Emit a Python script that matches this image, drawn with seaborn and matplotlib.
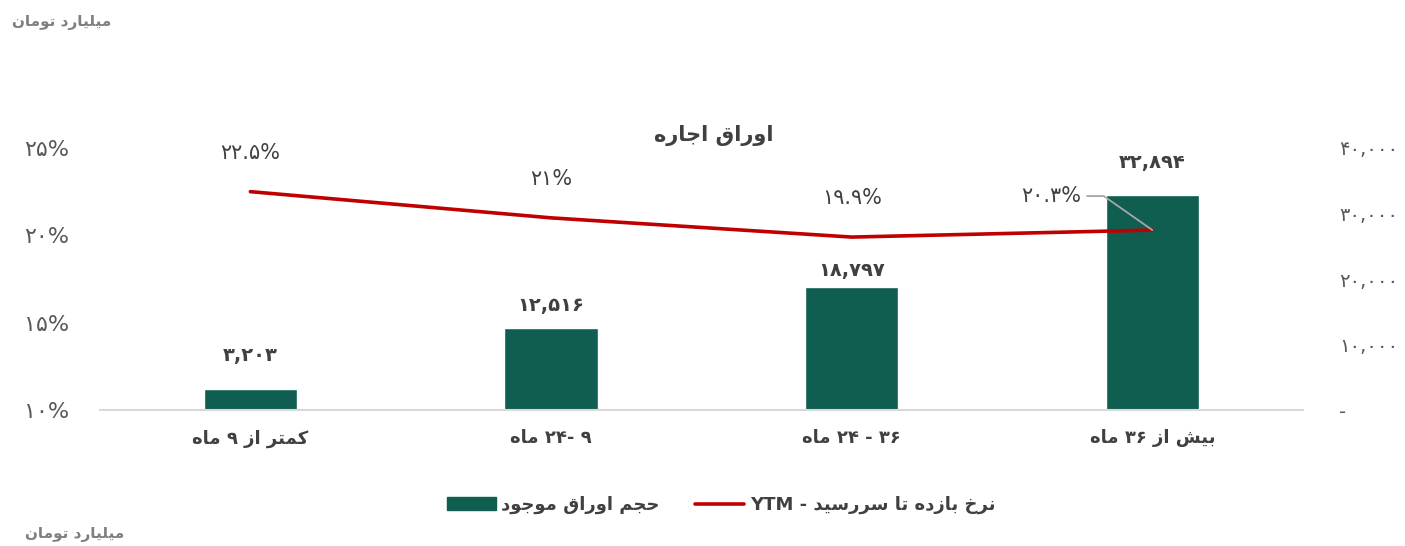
import re
import numpy as np
import matplotlib
matplotlib.use("Agg")
import matplotlib.pyplot as plt
from matplotlib.patches import Patch
from matplotlib.lines import Line2D
import seaborn as sns

# --- data ---
categories = ["کمتر از ۹ ماه", "۹ -۲۴ ماه", "۳۶ - ۲۴ ماه", "بیش از ۳۶ ماه"]
volume = [3203, 12516, 18797, 32894]          # billion toman (right axis)
volume_labels = ["۳,۲۰۳", "۱۲,۵۱۶", "۱۸,۷۹۷", "۳۲,۸۹۴"]
ytm = [22.5, 21.0, 19.9, 20.3]                # percent (left axis)
ytm_labels = ["۲۲.۵%", "۲۱%", "۱۹.۹%", "۲۰.۳%"]
left_ticks = [10, 15, 20, 25]
left_ticklabels = ["۱۰%", "۱۵%", "۲۰%", "۲۵%"]
right_ticks = [0, 10000, 20000, 30000, 40000]
right_ticklabels = ["-", "۱۰,۰۰۰", "۲۰,۰۰۰", "۳۰,۰۰۰", "۴۰,۰۰۰"]
title = "اوراق اجاره"
unit = "میلیارد تومان"
legend_bar = "حجم اوراق موجود"
legend_line = "نرخ بازده تا سررسید - YTM"

GREEN = "#0F5E50"
RED = "#C00000"
DARK = "#404040"
GREY = "#595959"

# --- minimal Persian shaping (matplotlib has no complex text layout) ---
# isolated, final, initial, medial
FORMS = {
    "ا": ("\uFE8D", "\uFE8E", None, None),
    "د": ("\uFEA9", "\uFEAA", None, None),
    "ر": ("\uFEAD", "\uFEAE", None, None),
    "ز": ("\uFEAF", "\uFEB0", None, None),
    "و": ("\uFEED", "\uFEEE", None, None),
    "ب": ("\uFE8F", "\uFE90", "\uFE91", "\uFE92"),
    "ت": ("\uFE95", "\uFE96", "\uFE97", "\uFE98"),
    "ج": ("\uFE9D", "\uFE9E", "\uFE9F", "\uFEA0"),
    "ح": ("\uFEA1", "\uFEA2", "\uFEA3", "\uFEA4"),
    "خ": ("\uFEA5", "\uFEA6", "\uFEA7", "\uFEA8"),
    "س": ("\uFEB1", "\uFEB2", "\uFEB3", "\uFEB4"),
    "ش": ("\uFEB5", "\uFEB6", "\uFEB7", "\uFEB8"),
    "ق": ("\uFED5", "\uFED6", "\uFED7", "\uFED8"),
    "ل": ("\uFEDD", "\uFEDE", "\uFEDF", "\uFEE0"),
    "م": ("\uFEE1", "\uFEE2", "\uFEE3", "\uFEE4"),
    "ن": ("\uFEE5", "\uFEE6", "\uFEE7", "\uFEE8"),
    "ه": ("\uFEE9", "\uFEEA", "\uFEEB", "\uFEEC"),
    "ک": ("\uFB8E", "\uFB8F", "\uFB90", "\uFB91"),
    "ی": ("\uFBFC", "\uFBFD", "\uFBFE", "\uFBFF"),
}


def fa(s):
    out = []
    for i, ch in enumerate(s):
        if ch not in FORMS:
            out.append(ch)
            continue
        prev = s[i - 1] if i > 0 else None
        nxt = s[i + 1] if i + 1 < len(s) else None
        iso, fin, ini, med = FORMS[ch]
        jp = prev in FORMS and FORMS[prev][2] is not None
        jn = nxt in FORMS and ini is not None
        if jp and jn:
            out.append(med)
        elif jp:
            out.append(fin)
        elif jn:
            out.append(ini)
        else:
            out.append(iso)
    vis = "".join(out)[::-1]
    return re.sub(r"[0-9۰-۹A-Za-z.,%]+", lambda m: m.group()[::-1], vis)


sns.set_theme(style="white")
plt.rcParams["font.family"] = ["DejaVu Sans"]

fig = plt.figure(figsize=(14.05, 5.46), dpi=100)
fig.patch.set_facecolor("white")
ax = fig.add_axes([0.0712, 0.249, 0.856, 0.48])
ax2 = ax.twinx()

x = np.arange(len(categories))

# bars on right axis
sns.barplot(x=x, y=volume, ax=ax2, color=GREEN, width=0.31, saturation=1, native_scale=True)
ax2.set_ylim(0, 40000)
ax2.set_yticks(right_ticks)
ax2.set_yticklabels(right_ticklabels)
ax2.tick_params(axis="y", length=0, pad=26, labelsize=14, labelcolor=GREY)
for lab in ax2.get_yticklabels():
    lab.set_horizontalalignment("left")

bar_offsets = [24, 16, 12, 23]
for i, (v, t) in enumerate(zip(volume, volume_labels)):
    ax2.annotate(t, (x[i], v), xytext=(0, bar_offsets[i]), textcoords="offset points",
                 ha="center", va="center", fontsize=14, fontweight="bold", color=DARK)

# line on left axis
sns.lineplot(x=x, y=ytm, ax=ax, color=RED, linewidth=2.6)
ax.set_ylim(10, 25)
ax.set_yticks(left_ticks)
ax.set_yticklabels(left_ticklabels)
ax.tick_params(axis="y", length=0, pad=22, labelsize=16, labelcolor=GREY)

for i in range(3):
    ax.annotate(ytm_labels[i], (x[i], ytm[i]), xytext=(0, 28), textcoords="offset points",
                ha="center", va="center", fontsize=15, color=DARK)
ax.annotate(ytm_labels[3], (x[3], ytm[3]), xytext=(-73, 24.5), textcoords="offset points",
            ha="center", va="center", fontsize=15, color=DARK,
            arrowprops=dict(arrowstyle="-", color="#A6A6A6", lw=1.3, shrinkA=2, shrinkB=0,
                            relpos=(1, 0.5),
                            connectionstyle="angle,angleA=0,angleB=145,rad=0"))

ax.set_zorder(ax2.get_zorder() + 1)
ax.patch.set_visible(False)

ax.set_xlim(-0.5, len(categories) - 0.5)
ax.set_xticks(x)
ax.set_xticklabels([fa(c) for c in categories], fontsize=13, fontweight="bold", color=DARK)
ax.tick_params(axis="x", length=0, pad=14)
for a in (ax, ax2):
    a.set_xlabel("")
    a.set_ylabel("")
    for side in ("top", "left", "right"):
        a.spines[side].set_visible(False)
ax2.spines["bottom"].set_visible(False)
ax.spines["bottom"].set_color("#D9D9D9")
ax.spines["bottom"].set_linewidth(1.5)

# titles and unit notes
fig.text(714 / 1405, 1 - 135 / 546, fa(title), ha="center", va="center",
         fontsize=15, fontweight="bold", color=DARK)
fig.text(12 / 1405, 1 - 22 / 546, fa(unit), ha="left", va="center",
         fontsize=11, fontweight="bold", color="#7F7F7F")
fig.text(25 / 1405, 1 - 535 / 546, fa(unit), ha="left", va="center",
         fontsize=11, fontweight="bold", color="#7F7F7F")

handles = [Patch(facecolor=GREEN, edgecolor=GREEN),
           Line2D([0], [0], color=RED, linewidth=2.6)]
leg = fig.legend(handles, [fa(legend_bar), fa(legend_line)], ncol=2, loc="center",
                 bbox_to_anchor=(721 / 1405, 1 - 505 / 546), frameon=False,
                 handlelength=2.7, handleheight=0.7, columnspacing=2.0, handletextpad=0.3,
                 prop={"size": 13, "weight": "bold"})
for t in leg.get_texts():
    t.set_color(DARK)

fig.savefig("out.png", dpi=100, facecolor="white")
